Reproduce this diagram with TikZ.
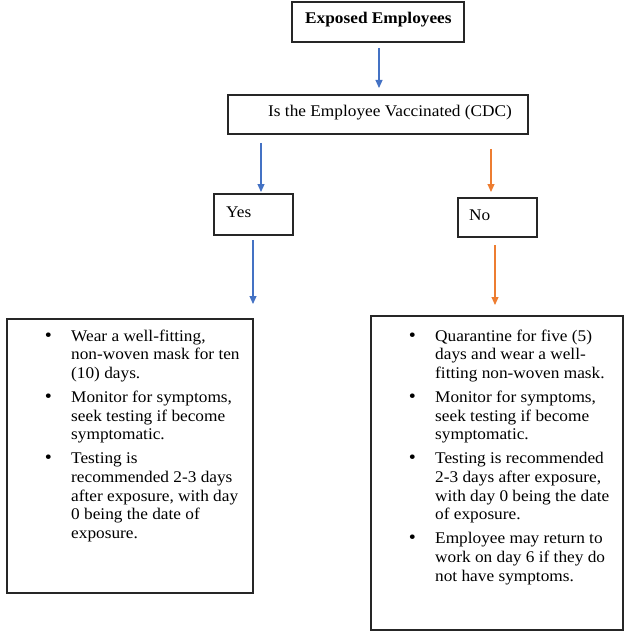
\documentclass[tikz,border=0pt]{standalone}
\usepackage{fontspec}
\setmainfont{Liberation Serif}[FakeStretch=1.06]
\usetikzlibrary{arrows.meta}
\definecolor{arrblue}{HTML}{4472C4}
\definecolor{arrorange}{HTML}{ED7D31}
\begin{document}
\begin{tikzpicture}[x=1pt,y=-1pt,
  box/.style={draw=black!85, line width=1.2pt, inner sep=0pt},
  txt/.style={inner sep=0pt, anchor=base west, align=left, font=\fontsize{16.3}{18.7}\selectfont},
  bul/.style={inner sep=0pt, anchor=base, font=\fontsize{19}{18.7}\selectfont},
  arr/.style={line width=1.1pt, -{Triangle[length=8pt,width=7pt]}}]
\useasboundingbox (0,0) rectangle (625,631);
% boxes
\node[box, minimum width=172pt, minimum height=40pt] (exp) at (378,22) {};
\node[box, minimum width=300pt, minimum height=39pt] (vac) at (378,114.5) {};
\node[box, minimum width=79pt, minimum height=41pt] (yes) at (253.5,214.5) {};
\node[box, minimum width=79pt, minimum height=39pt] (no) at (497.5,217.5) {};
\node[box, minimum width=246pt, minimum height=274pt] (lbox) at (130,456) {};
\node[box, minimum width=252pt, minimum height=314pt] (rbox) at (497,473) {};
% labels
\node[txt] (expt) at (305,23.3) {\bfseries Exposed Employees};
\node[txt] (vact) at (268,117) {Is the Employee Vaccinated (CDC)};
\node[txt] (yest) at (226,217) {Yes};
\node[txt] (not) at (469,220.5) {No};
% left list (anchor = baseline of last line)
\node[bul] (lb1) at (48.5,341) {•};
\node[txt] (li1) at (71,378.4) {Wear a well-fitting,\\non-woven mask for ten\\(10) days.};
\node[bul] (lb2) at (48.5,402.4) {•};
\node[txt] (li2) at (71,439.8) {Monitor for symptoms,\\seek testing if become\\symptomatic.};
\node[bul] (lb3) at (48.5,463.8) {•};
\node[txt] (li3) at (71,538.6) {Testing is\\recommended 2-3 days\\after exposure, with day\\0 being the date of\\exposure.};
% right list
\node[bul] (rb1) at (412.5,341) {•};
\node[txt] (ri1) at (435,378.4) {Quarantine for five (5)\\days and wear a well-\\fitting non-woven mask.};
\node[bul] (rb2) at (412.5,402.4) {•};
\node[txt] (ri2) at (435,439.8) {Monitor for symptoms,\\seek testing if become\\symptomatic.};
\node[bul] (rb3) at (412.5,463.8) {•};
\node[txt] (ri3) at (435,519.9) {Testing is recommended\\2-3 days after exposure,\\with day 0 being the date\\of exposure.};
\node[bul] (rb4) at (412.5,543.9) {•};
\node[txt] (ri4) at (435,581.8) {Employee may return to\\work on day 6 if they do\\[0.5pt]not have symptoms.};
% arrow ends
\coordinate (a1s) at (379,48);  \coordinate (a1e) at (379,88);
\coordinate (a2s) at (261,143); \coordinate (a2e) at (261,192);
\coordinate (a3s) at (253,240); \coordinate (a3e) at (253,304);
\coordinate (a4s) at (491,149); \coordinate (a4e) at (491,192);
\coordinate (a5s) at (495,245); \coordinate (a5e) at (495,305);
\draw[arr, arrblue] (a1s) -- (a1e);
\draw[arr, arrblue] (a2s) -- (a2e);
\draw[arr, arrblue] (a3s) -- (a3e);
\draw[arr, arrorange] (a4s) -- (a4e);
\draw[arr, arrorange] (a5s) -- (a5e);
\end{tikzpicture}
\end{document}
